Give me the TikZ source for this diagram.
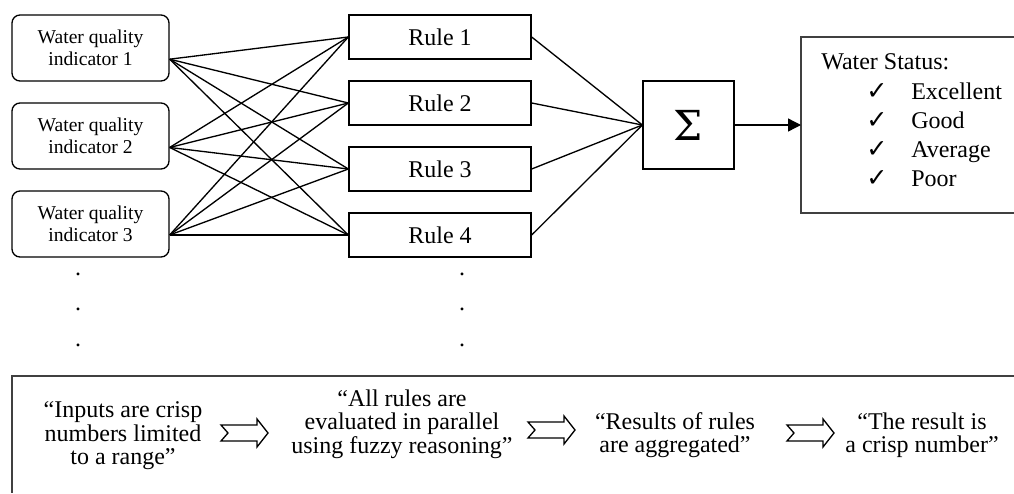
\documentclass[tikz,border=0pt]{standalone}
\usepackage{fontspec}
\setmainfont{Liberation Serif}
\newfontfamily\symfont{DejaVu Sans}
\newfontfamily\sigfont{DejaVu Serif}
\usetikzlibrary{arrows.meta}
\tikzset{
  ind/.style={draw, rounded corners=6pt, line width=1pt, minimum width=117.75pt, minimum height=49.5pt,
    align=center, inner sep=0pt, font=\fontsize{14.7}{16.5}\selectfont},
  rulebox/.style={draw, line width=1pt, minimum width=136.5pt, minimum height=33pt, inner sep=0pt,
    font=\fontsize{18}{20}\selectfont},
  sigbox/.style={draw, line width=1pt, minimum width=68.25pt, minimum height=66pt, inner sep=0pt,
    font=\sigfont\fontsize{31}{31}\selectfont},
  link/.style={line width=1pt},
  frameline/.style={draw=black!75, line width=1pt},
  stat/.style={anchor=base west, inner sep=0pt, font=\fontsize{18}{20}\selectfont},
  chk/.style={anchor=base, inner sep=0pt, font=\symfont\fontsize{19}{19}\selectfont},
  btext/.style={align=center, inner sep=0pt, font=\fontsize{18}{17.6}\selectfont},
  dotn/.style={inner sep=0pt, font=\fontsize{18}{18}\selectfont},
  pics/notcharrow/.style={code={
    \draw[line width=1pt, line join=miter] (0,-8) -- (36,-8) -- (36,-14) -- (47,0) -- (36,14) -- (36,8) -- (0,8) -- (7,0) -- cycle;}}
}
\begin{document}
\begin{tikzpicture}[x=0.75pt,y=-0.75pt]
\useasboundingbox (0,0) rectangle (1014,493);

% inputs
\node[ind] (i1) at (90.5,48) {Water quality\\indicator 1};
\node[ind] (i2) at (90.5,136) {Water quality\\indicator 2};
\node[ind] (i3) at (90.5,224) {Water quality\\indicator 3};
\coordinate (o1) at ([yshift=-8.4pt]i1.east);
\coordinate (o2) at ([yshift=-8.6pt]i2.east);
\coordinate (o3) at ([yshift=-8.25pt]i3.east);

% rules
\node[rulebox] (r1) at (440,37) {Rule 1};
\node[rulebox] (r2) at (440,103) {Rule 2};
\node[rulebox] (r3) at (440,169) {Rule 3};
\node[rulebox] (r4) at (440,235) {Rule 4};

\foreach \i in {1,2,3}{
  \foreach \j in {1,2,3,4}{
    \draw[link] (o\i) -- (r\j.west);
  }
}

% sigma
\node[sigbox] (sg) at (688.5,125) {Σ};
\foreach \j in {1,2,3,4}{
  \draw[link] (r\j.east) -- (sg.west);
}

% status box
\draw[frameline] (1014,37) -- (801,37) -- (801,213) -- (1014,213);
\coordinate (stin) at (801,125);
\draw[link, -{Triangle[length=9.75pt,width=9.75pt]}] (sg.east) -- (stin);

\node[stat] (ws) at (821,69) {Water Status:};
\node[chk] (c1) at (877,99) {✓};
\node[chk] (c2) at (877,128) {✓};
\node[chk] (c3) at (877,157) {✓};
\node[chk] (c4) at (877,186) {✓};
\node[stat] (s1) at (911,99) {Excellent};
\node[stat] (s2) at (911,128) {Good};
\node[stat] (s3) at (911,157) {Average};
\node[stat] (s4) at (911,186) {Poor};

% dots
\node[dotn] (dl1) at (78,274) {.};
\node[dotn] (dl2) at (78,309) {.};
\node[dotn] (dl3) at (78,345) {.};
\node[dotn] (dr1) at (462,274) {.};
\node[dotn] (dr2) at (462,309) {.};
\node[dotn] (dr3) at (462,345) {.};

% bottom frame
\draw[frameline] (1014,376) -- (12,376) -- (12,493);

\node[btext] (t1) at (123,436) {“Inputs are crisp\\numbers limited\\to a range”};
\node[btext] (t2) at (402,424) {“All rules are\\evaluated in parallel\\using fuzzy reasoning”};
\node[btext] (t3) at (675,435) {“Results of rules\\are aggregated”};
\node[btext] (t4) at (922,435) {“The result is\\a crisp number”};

\pic (a1) at (221,433) {notcharrow};
\pic (a2) at (528,430) {notcharrow};
\pic (a3) at (787,433) {notcharrow};
\end{tikzpicture}
\end{document}
